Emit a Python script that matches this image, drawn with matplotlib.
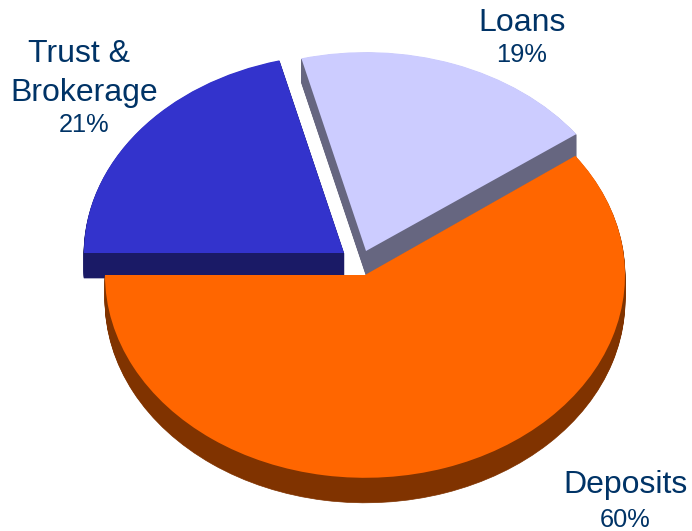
import numpy as np
import matplotlib
matplotlib.use("Agg")
import matplotlib.pyplot as plt
from matplotlib.patches import Wedge
from matplotlib.transforms import Affine2D

labels = ["Deposits", "Loans", "Trust &\nBrokerage"]
shares = [60, 19, 21]
top_colors = ["#FF6600", "#CCCCFF", "#3333CC"]
side_colors = ["#803300", "#666680", "#1A1A66"]

W, H = 692, 531
RADIUS = 260
TEXT_COLOR = "#003366"

# slice centres in pixels, thickness and squash in y for each slice
centers = [(365, 275), (366, 251), (344, 253)]
depths = [25, 24, 25]
tilts = [0.78, 0.765, 0.765]

plt.rcParams["font.family"] = ["Liberation Sans", "DejaVu Sans"]

fig = plt.figure(figsize=(W / 100, H / 100), dpi=100)
ax = fig.add_axes([0, 0, 1, 1])
ax.set_xlim(0, W)
ax.set_ylim(0, H)
ax.axis("off")


def place(center, tilt, drop=0):
    return Affine2D().scale(1, tilt).translate(center[0], H - center[1] - drop) + ax.transData


def draw_slice(center, depth, tilt, start, end, top, side):
    # stack copies downwards for the side wall, then the top face
    for d in np.arange(depth, 0, -1):
        ax.add_patch(Wedge((0, 0), RADIUS, start, end, transform=place(center, tilt, d),
                           facecolor=side, edgecolor=side, linewidth=0.5))
    ax.add_patch(Wedge((0, 0), RADIUS, start, end, transform=place(center, tilt),
                       facecolor=top, edgecolor="none", linewidth=0))


# angles run counter clockwise from the left side
edges = 180 + np.concatenate([[0], np.cumsum(shares)]) * 360 / sum(shares)

# deposits goes last so it sits in front of the others
for i in [2, 1, 0]:
    draw_slice(centers[i], depths[i], tilts[i], edges[i], edges[i + 1],
               top_colors[i], side_colors[i])


def label(x, y, s, size):
    fig.text(x / W, 1 - y / H, s, fontsize=size, color=TEXT_COLOR,
             ha="center", va="baseline")


name_size = 23
pct_size = 18.3

label(79, 62, "Trust &", name_size)
label(84, 101, "Brokerage", name_size)
label(84, 132, f"{shares[2]}%", pct_size)

label(522, 31, labels[1], name_size)
label(522, 62, f"{shares[1]}%", pct_size)

label(625.5, 493, labels[0], name_size)
label(625.5, 527, f"{shares[0]}%", pct_size)

fig.savefig("out.png", dpi=100, facecolor="white")
